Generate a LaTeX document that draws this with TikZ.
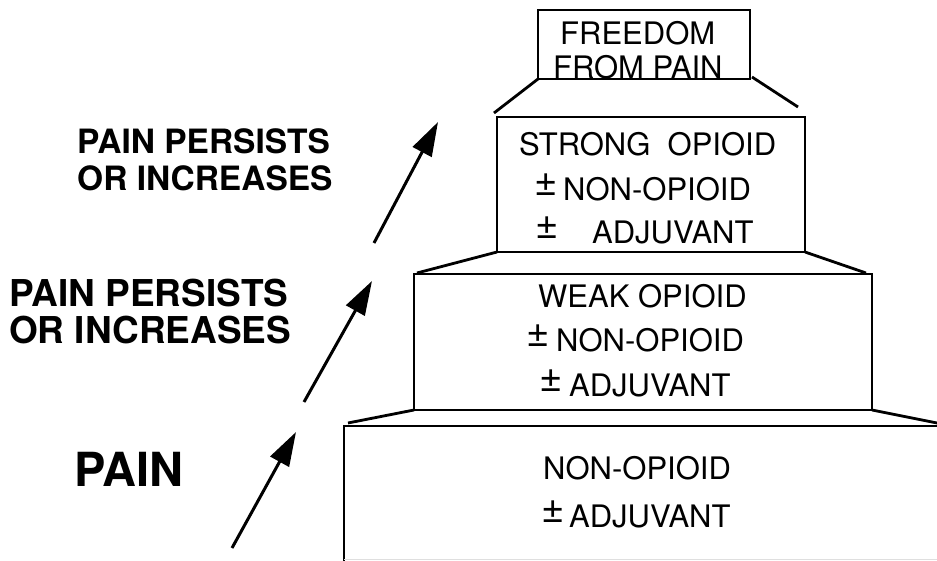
\documentclass[tikz,border=0pt]{standalone}
\usepackage{fontspec}
\setmainfont{TeX Gyre Heros}
\usetikzlibrary{arrows.meta}
\begin{document}
\begin{tikzpicture}[x=1pt,y=-1pt,
  boxline/.style={line width=2.4pt},
  slant/.style={line width=2.8pt},
  boxtext/.style={anchor=base west,inner sep=0pt,font=\fontsize{31}{31}\selectfont},
  pm/.style={anchor=base west,inner sep=0pt,font=\fontsize{40}{40}\selectfont},
  sidetext/.style={anchor=base west,inner sep=0pt,font=\bfseries},
  uparrow/.style={line width=3pt,-{Triangle[length=34pt,width=21pt]}}]
\useasboundingbox (0,0) rectangle (937,561);
% boxes
\draw[boxline] (538,10) rectangle (750,79);
\draw[boxline] (497,117) rectangle (805,252);
\draw[boxline] (414,274) rectangle (872,410);
\draw[boxline] (344,561) -- (344,426) -- (937,426);
\draw[gray!25,line width=1pt] (344,559.5) -- (937,559.5);
% slants
\draw[slant] (538,79) -- (494,113);
\draw[slant] (752,77) -- (798,107);
\draw[slant] (497,252) -- (417,273);
\draw[slant] (805,252) -- (866,273);
\draw[slant] (414,410) -- (348,423);
\draw[slant] (872,410) -- (937,423);
% top box text
\node[boxtext] (t1) at (560,45) {FREEDOM};
\node[boxtext] (t2) at (553,79) {FROM PAIN};
% strong
\node[boxtext] (s1) at (519,156) {STRONG\ \ OPIOID};
\node[pm] (s2p) at (534,196) {±};
\node[boxtext] (s2) at (563,201) {NON-OPIOID};
\node[pm] (s3p) at (535,239) {±};
\node[boxtext] (s3) at (592,244) {ADJUVANT};
% weak
\node[boxtext] (w1) at (538,308) {WEAK OPIOID};
\node[pm] (w2p) at (526,346) {±};
\node[boxtext] (w2) at (556,351) {NON-OPIOID};
\node[pm] (w3p) at (539,391) {±};
\node[boxtext] (w3) at (569,396) {ADJUVANT};
% bottom
\node[boxtext] (b1) at (543,479) {NON-OPIOID};
\node[pm] (b2p) at (541,522) {±};
\node[boxtext] (b2) at (569,527) {ADJUVANT};
% side texts
\node[sidetext,font=\fontsize{33.5}{33.5}\selectfont\bfseries] (l1) at (77,154) {PAIN PERSISTS};
\node[sidetext,font=\fontsize{33.5}{33.5}\selectfont\bfseries] (l2) at (77,191) {OR INCREASES};
\node[sidetext,font=\fontsize{37}{37}\selectfont\bfseries] (m1) at (9,307) {PAIN PERSISTS};
\node[sidetext,font=\fontsize{37}{37}\selectfont\bfseries] (m2) at (9,344) {OR INCREASES};
\node[sidetext,font=\fontsize{47}{47}\selectfont\bfseries] (p) at (74,486) {PAIN};
% arrows
\coordinate (a1s) at (232,548); \coordinate (a1e) at (296,432);
\coordinate (a2s) at (304,402); \coordinate (a2e) at (372,281);
\coordinate (a3s) at (374,243); \coordinate (a3e) at (438,122);
\draw[uparrow] (a1s) -- (a1e);
\draw[uparrow] (a2s) -- (a2e);
\draw[uparrow] (a3s) -- (a3e);
\end{tikzpicture}
\end{document}
